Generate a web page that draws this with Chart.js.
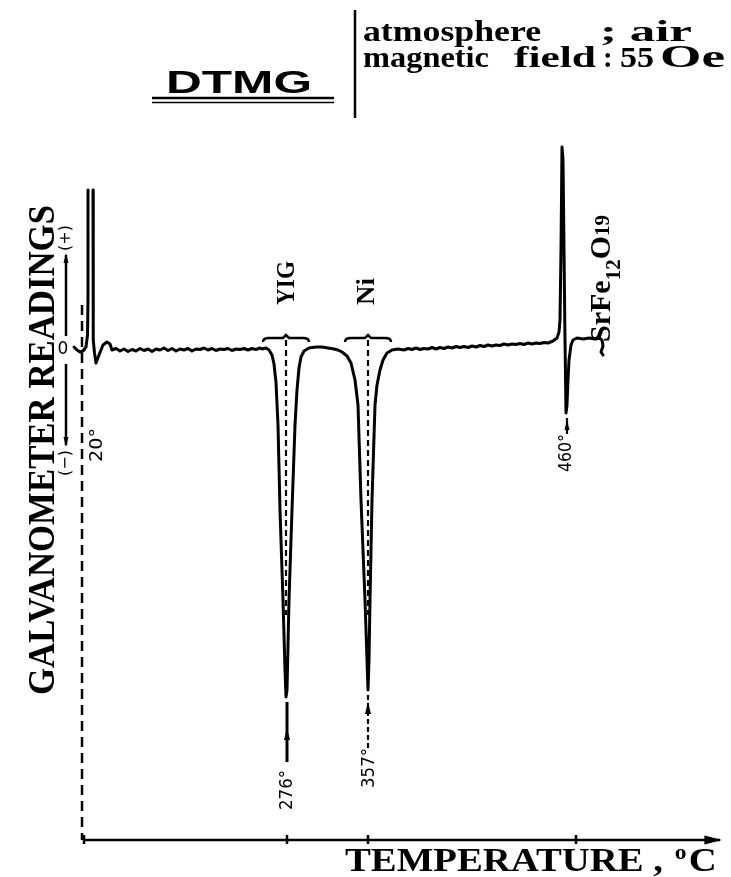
<!DOCTYPE html>
<html><head><meta charset="utf-8">
<script src="https://cdn.jsdelivr.net/npm/chart.js@4/dist/chart.umd.min.js"></script>
<style>html,body{margin:0;padding:0;background:#fff}#wrap{width:731px;height:877px}</style>
</head><body><div id="wrap"><canvas id="c" width="731" height="877"></canvas></div>
<script>
// ---- data (recorder position, arbitrary units; galvanometer reading, arbitrary units)
const leftPos = [-6, -3, 0, 3, 6, 7.5, 8, 8, null, 13, 13, 13.5, 14.5, 16, 19, 23, 27, 30];
const leftReading = [0.6, 0, -0.4, -0.2, 0.6, 3, 10, 32, null, 32, 8, 2, -0.6, -2.6, -1, 1.0, 1.6, 1.2];
const base1Pos = [32,36,40,44,48,52,56,60,64,68,72,76,80,84,88,92,96,100,104,108,112,116,120,124,128,132,136,140,144,148,152,156,160,164,168,172,176,180];
const base1Reading = [0,0.3,-0.2,0.2,-0.3,0.1,-0.2,0.3,-0.1,0.2,-0.3,0.2,0,0.4,-0.1,0.3,-0.2,0.2,0,0.3,-0.2,0.2,0.1,0.4,0,0.3,-0.1,0.2,0.1,0.3,-0.1,0.2,0.1,0.3,0,0.3,0.1,0.4];
const yigPos = [182,186,189,192,194,196,198,200,203,205,206,207,209,212,215,217,219,221,224,229,236,242,248,254];
const yigReading = [0.2,0.4,0,-1.0,-2.8,-6.5,-15,-32,-50,-64,-69.4,-68,-50,-32,-15,-8,-3.6,-1.4,-0.2,0.4,0.6,0.6,0.4,0.2];
const niPos = [258,262,267,271,275,278,281,285,287,288,289,290,292,295,297,300,303,307,312,318];
const niReading = [0,-0.4,-1.2,-2.6,-6,-11,-30,-50,-62,-68,-62,-50,-30,-11,-7,-4,-2,-0.6,0,0.2];
const base2Pos = [324,328,332,336,340,344,348,352,356,360,364,368,372,376,380,384,388,392,396,400,404,408,412,416,420,424,428,432,436,440,444,448,452,456,460,464,468];
const base2Reading = [0,0.3,0.1,0.4,0.1,0.3,0.2,0.5,0.2,0.5,0.3,0.6,0.4,0.7,0.5,0.7,0.5,0.8,0.6,0.9,0.7,1.0,0.8,1.0,0.9,1.2,1.0,1.2,1.1,1.3,1.1,1.4,1.2,1.4,1.3,1.5,1.4];
const srfePos = [473,477,479,480,481,482,483,484,485,486,487,488,489,491,493,497,503,509,515,519,522,523,521,523];
const srfeReading = [1.8,2.4,3.6,6,20,40.6,38,20,2,-12.6,-11,-6,-2,1,2,2.4,2.2,2.4,2.2,2.4,2,0.8,-0.4,-1];

// transition marks
const tempMarks = ['20°', '276°', '357°', '460°'];
const tempMarkPos = [2, 207, 288, 487];
const phaseNames = ['YIG', 'Ni', 'SrFe12O19'];
const phasePos = [206, 288, 487];
const axisTickPos = [4, 207, 288, 496];

// ---- build trace
const tracePos = [].concat(leftPos, base1Pos, yigPos, niPos, base2Pos, srfePos);
const traceReading = [].concat(leftReading, base1Reading, yigReading, niReading, base2Reading, srfeReading);
const pts = tracePos.map((x, i) => (x === null ? {x: null, y: null} : {x: x, y: traceReading[i]}));

const SERIF = '"Liberation Serif", "DejaVu Serif", serif';
const SANS = '"Liberation Sans", Arial, sans-serif';
const MONO = '"DejaVu Sans", sans-serif';

function txt(ctx, s, x, y, font, w, rot, align, base) {
  ctx.save();
  ctx.translate(x, y);
  if (rot) ctx.rotate(rot);
  ctx.font = font;
  ctx.textAlign = align || 'left';
  ctx.textBaseline = base || 'alphabetic';
  const m = ctx.measureText(s).width;
  if (w) ctx.scale(w / m, 1);
  ctx.fillStyle = '#000';
  ctx.fillText(s, 0, 0);
  ctx.restore();
}
function line(ctx, x1, y1, x2, y2, lw, dash) {
  ctx.save();
  ctx.beginPath();
  ctx.lineWidth = lw;
  ctx.strokeStyle = '#000';
  ctx.setLineDash(dash || []);
  ctx.moveTo(x1, y1); ctx.lineTo(x2, y2);
  ctx.stroke();
  ctx.restore();
}
function arrowHead(ctx, x, y, dir, size) {
  ctx.save();
  ctx.beginPath();
  ctx.fillStyle = '#000';
  if (dir === 2) {
    ctx.moveTo(x, y); ctx.lineTo(x - size * 2.2, y - size * 0.55); ctx.lineTo(x - size * 2.2, y + size * 0.55);
  } else {
    ctx.moveTo(x, y); ctx.lineTo(x - size * 0.5, y - dir * size * 2); ctx.lineTo(x + size * 0.5, y - dir * size * 2);
  }
  ctx.closePath();
  ctx.fill();
  ctx.restore();
}
function bracket(ctx, cx, y, half) {
  ctx.save();
  ctx.beginPath();
  ctx.lineWidth = 2.5;
  ctx.strokeStyle = '#000';
  ctx.moveTo(cx - half, y + 4);
  ctx.quadraticCurveTo(cx - half, y, cx - half + 6, y);
  ctx.lineTo(cx - 3, y);
  ctx.lineTo(cx, y - 3);
  ctx.lineTo(cx + 3, y);
  ctx.lineTo(cx + half - 6, y);
  ctx.quadraticCurveTo(cx + half, y, cx + half, y + 4);
  ctx.stroke();
  ctx.restore();
}

const decor = {
  id: 'decor',
  beforeDraw(chart) {
    const ctx = chart.ctx;
    ctx.save(); ctx.fillStyle = '#fff'; ctx.fillRect(0, 0, chart.width, chart.height); ctx.restore();
  },
  afterDraw(chart) {
    const ctx = chart.ctx;
    const xs = chart.scales.x, ys = chart.scales.y;
    const X = v => xs.getPixelForValue(v);
    const Y = v => ys.getPixelForValue(v);
    const y0 = Y(0);
    const axisY = chart.chartArea.bottom;

    // x axis with arrow
    line(ctx, X(axisTickPos[0]), axisY, X(640), axisY, 2.5);
    arrowHead(ctx, X(642), axisY, 2, 8);
    axisTickPos.forEach(p => line(ctx, X(p), axisY - 5, X(p), axisY + 4, 2.5));

    // dashed reference at start temperature
    line(ctx, X(tempMarkPos[0]), y0 - 45, X(tempMarkPos[0]), axisY, 2.5, [10, 6]);

    // dashed centre lines and brackets of the dips
    [0, 1].forEach(i => {
      const cx = X(phasePos[i]);
      line(ctx, cx, y0 - 10, cx, y0 + 265, 2.2, [6, 4]);
      bracket(ctx, cx, y0 - 12, 23);
    });

    // temperature marks
    txt(ctx, tempMarks[0], X(tempMarkPos[0]) + 15, y0 + 95, '18px ' + MONO, 34, -Math.PI / 2, 'center', 'middle');
    let cx = X(tempMarkPos[1]);
    line(ctx, cx, y0 + 352, cx, y0 + 412, 3);
    arrowHead(ctx, cx, y0 + 378, -1, 6);
    txt(ctx, tempMarks[1], cx, y0 + 440, '18px ' + MONO, 40, -Math.PI / 2, 'center', 'middle');
    cx = X(tempMarkPos[2]);
    line(ctx, cx, y0 + 345, cx, y0 + 398, 2.2, [5, 3]);
    arrowHead(ctx, cx, y0 + 352, -1, 6);
    txt(ctx, tempMarks[2], cx + 1, y0 + 418, '18px ' + MONO, 40, -Math.PI / 2, 'center', 'middle');
    cx = X(tempMarkPos[3]);
    line(ctx, cx, y0 + 68, cx, y0 + 84, 2.2);
    arrowHead(ctx, cx, y0 + 70, -1, 5);
    txt(ctx, tempMarks[3], cx - 1, y0 + 103, '18px ' + MONO, 38, -Math.PI / 2, 'center', 'middle');

    // phase names
    txt(ctx, phaseNames[0], X(phasePos[0]) + 8, y0 - 45, 'bold 26px ' + SERIF, 44, -Math.PI / 2, 'left', 'alphabetic');
    txt(ctx, phaseNames[1], X(phasePos[1]) + 6, y0 - 45, 'bold 26px ' + SERIF, 27, -Math.PI / 2, 'left', 'alphabetic');
    ctx.save();
    ctx.translate(X(phasePos[2]) + 43, y0 - 8);
    ctx.rotate(-Math.PI / 2);
    ctx.fillStyle = '#000';
    ctx.textBaseline = 'alphabetic';
    let off = 0;
    const parts = [['SrFe', 'bold 30px ' + SERIF, 0], ['12', 'bold 21px ' + SERIF, 10], ['O', 'bold 30px ' + SERIF, 0], ['19', 'bold 21px ' + SERIF, -1]];
    parts.forEach(p => {
      ctx.font = p[1];
      ctx.fillText(p[0], off, p[2]);
      off += ctx.measureText(p[0]).width;
    });
    ctx.restore();

    // left y-axis legend
    txt(ctx, 'GALVANOMETER READINGS', 54, 695, 'bold 38px ' + SERIF, 490, -Math.PI / 2, 'left', 'alphabetic');
    txt(ctx, '0', 63, y0, '17px ' + MONO, 0, 0, 'center', 'middle');
    line(ctx, 66, y0 - 14, 66, y0 - 95, 2.5);
    arrowHead(ctx, 66, y0 - 97, -1, 5);
    txt(ctx, '(+)', 66, y0 - 112, '16px ' + MONO, 0, -Math.PI / 2, 'center', 'middle');
    line(ctx, 66, y0 + 14, 66, y0 + 95, 2.5);
    arrowHead(ctx, 66, y0 + 97, 1, 5);
    txt(ctx, '(\u2212)', 66, y0 + 113, '16px ' + MONO, 0, -Math.PI / 2, 'center', 'middle');

    // x-axis title
    ctx.save();
    ctx.fillStyle = '#000';
    ctx.font = 'bold 33px ' + SERIF;
    const t1 = 'TEMPERATURE ,';
    const w1 = ctx.measureText(t1).width;
    ctx.translate(345, 871);
    ctx.scale(318 / w1, 1);
    ctx.fillText(t1, 0, 0);
    ctx.font = 'bold 20px ' + SERIF;
    ctx.fillText('o', w1 + 10, -12);
    const wo = ctx.measureText('o').width;
    ctx.font = 'bold 33px ' + SERIF;
    ctx.fillText('C', w1 + 12 + wo, 0);
    ctx.restore();

    // header
    txt(ctx, 'DTMG', 166, 93, 'bold 32px ' + SANS, 146, 0, 'left', 'alphabetic');
    line(ctx, 152, 98, 334, 98, 2.5);
    line(ctx, 152, 102.5, 334, 102.5, 1.5);
    line(ctx, 355, 10, 355, 118, 2.5);
    const HF = 'bold 29px ' + SERIF;
    txt(ctx, 'atmosphere', 363, 41, HF, 178, 0, 'left', 'alphabetic');
    txt(ctx, '; air', 600, 41, HF, 92, 0, 'left', 'alphabetic');
    txt(ctx, 'magnetic', 363, 67, HF, 126, 0, 'left', 'alphabetic');
    txt(ctx, 'field', 514, 67, HF, 82, 0, 'left', 'alphabetic');
    txt(ctx, ':', 603, 67, HF, 0, 0, 'left', 'alphabetic');
    txt(ctx, '55', 620, 67, HF, 34, 0, 'left', 'alphabetic');
    txt(ctx, 'Oe', 660, 67, 'bold 32px ' + SERIF, 65, 0, 'left', 'alphabetic');
  }
};

new Chart(document.getElementById('c'), {
  type: 'scatter',
  data: {
    datasets: [{
      data: pts,
      showLine: true,
      spanGaps: false,
      borderColor: '#000',
      borderWidth: 3,
      pointRadius: 0,
      tension: 0,
      borderJoinStyle: 'round',
      borderCapStyle: 'round'
    }]
  },
  options: {
    responsive: false,
    animation: false,
    devicePixelRatio: 1,
    layout: {padding: {left: 60, right: 11, top: 140, bottom: 37}},
    plugins: {legend: {display: false}, tooltip: {enabled: false}},
    scales: {
      x: {type: 'linear', min: -20, max: 640, display: false},
      y: {type: 'linear', min: -98, max: 42, display: false}
    }
  },
  plugins: [decor]
});
</script>
</body></html>
